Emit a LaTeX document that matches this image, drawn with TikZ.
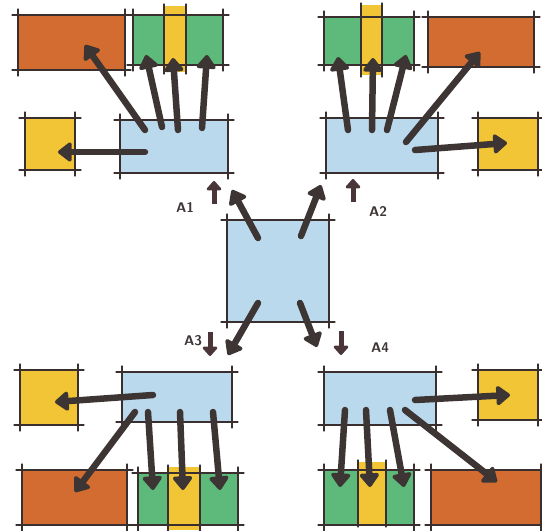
\documentclass[tikz,border=0pt]{standalone}
\usetikzlibrary{arrows.meta}
\definecolor{ink}{HTML}{3A2F2F}
\definecolor{arrink}{HTML}{3D3434}
\definecolor{sarrink}{HTML}{4A3638}
\definecolor{skyb}{HTML}{BAD9EC}
\definecolor{orng}{HTML}{D36C31}
\definecolor{grn}{HTML}{5DBA7B}
\definecolor{ylw}{HTML}{F1C536}
\newcommand\bx[6]{%
  \node[inner sep=0pt, outer sep=0pt, draw=none, fill=#6,
        minimum width={(#4-#2)*1pt}, minimum height={(#5-#3)*1pt}]
        (#1) at ({(#2+#4)/2},{(#3+#5)/2}) {};}
\newcommand\skout[1]{%
  \draw[sk] ([xshift=-6pt]#1.north west) -- ([xshift=6pt]#1.north east);
  \draw[sk] ([xshift=-6pt]#1.south west) -- ([xshift=6pt]#1.south east);
  \draw[sk] ([yshift=6pt]#1.north west) -- ([yshift=-6pt]#1.south west);
  \draw[sk] ([yshift=6pt]#1.north east) -- ([yshift=-6pt]#1.south east);}
\newcommand\skvert[1]{%
  \draw[sk] ([yshift=2pt]#1.north west) -- ([yshift=-2pt]#1.south west);
  \draw[sk] ([yshift=2pt]#1.north east) -- ([yshift=-2pt]#1.south east);}
\begin{document}
\begin{tikzpicture}[x=1pt,y=-1pt,
  sk/.style={draw=ink, line width=1.3pt, line cap=round},
  arr/.style={draw=arrink, line width=6.5pt, line cap=round,
    -{Triangle[round,length=15pt,width=22pt]}},
  sarr/.style={draw=sarrink, line width=5pt,
    -{Triangle[round,length=10pt,width=17pt]}},
  lbl/.style={font=\sffamily\bfseries\fontsize{14}{15}\selectfont, text=arrink, inner sep=1pt}]
\useasboundingbox (0,0) rectangle (542,531);
% ---------- boxes ----------
\bx{c}{227}{220}{329}{322}{skyb}
% TL
\bx{o1}{18}{15}{125}{70}{orng}
\bx{g1}{133}{15}{223}{65}{grn}
\bx{y1}{164}{6}{186}{72}{ylw}
\bx{s1}{25}{118}{75}{170}{ylw}
\bx{b1}{120}{120}{228}{173}{skyb}
% TR
\bx{g2}{324}{17}{414}{65}{grn}
\bx{y2}{361}{5}{382}{75}{ylw}
\bx{o2}{428}{17}{534}{67}{orng}
\bx{b2}{326}{118}{438}{173}{skyb}
\bx{s2}{478}{118}{538}{170}{ylw}
% BL
\bx{s3}{20}{370}{78}{425}{ylw}
\bx{b3}{122}{372}{232}{422}{skyb}
\bx{o3}{22}{470}{127}{525}{orng}
\bx{g3}{138}{473}{238}{525}{grn}
\bx{y3}{168}{467}{200}{530}{ylw}
% BR
\bx{b4}{324}{372}{436}{425}{skyb}
\bx{s4}{478}{370}{538}{420}{ylw}
\bx{g4}{324}{470}{414}{525}{grn}
\bx{y4}{358}{462}{386}{525}{ylw}
\bx{o4}{431}{470}{541}{525}{orng}
% ---------- sketch outlines ----------
\foreach \n in {c,o1,g1,s1,b1,g2,o2,b2,s2,s3,b3,o3,g3,b4,s4,g4,o4} {\skout{\n}}
\foreach \n in {y1,y2,y3,y4} {\skvert{\n}}
% ---------- arrow endpoints ----------
% TL
\coordinate (p1a) at (145,130); \coordinate (q1a) at (85,45);
\coordinate (p1b) at (162,127); \coordinate (q1b) at (146,55);
\coordinate (p1c) at (178,130); \coordinate (q1c) at (173,58);
\coordinate (p1d) at (202,128); \coordinate (q1d) at (207,55);
\coordinate (p1e) at (145,152); \coordinate (q1e) at (58,152);
\coordinate (cA1) at (258,238); \coordinate (tA1) at (232,190);
\coordinate (uA1) at (214,204); \coordinate (vA1) at (214,181);
% TR
\coordinate (p2a) at (348,130); \coordinate (q2a) at (338,57);
\coordinate (p2b) at (372,130); \coordinate (q2b) at (373,58);
\coordinate (p2c) at (387,130); \coordinate (q2c) at (406,55);
\coordinate (p2d) at (406,142); \coordinate (q2d) at (480,52);
\coordinate (p2e) at (415,150); \coordinate (q2e) at (507,143);
\coordinate (cA2) at (301,236); \coordinate (tA2) at (321,185);
\coordinate (uA2) at (353,202); \coordinate (vA2) at (353,179);
% BL
\coordinate (p3a) at (153,395); \coordinate (q3a) at (55,402);
\coordinate (p3b) at (135,412); \coordinate (q3b) at (75,492);
\coordinate (p3c) at (148,412); \coordinate (q3c) at (153,490);
\coordinate (p3d) at (180,412); \coordinate (q3d) at (183,490);
\coordinate (p3e) at (213,412); \coordinate (q3e) at (220,490);
\coordinate (cA3) at (258,303); \coordinate (tA3) at (228,355);
\coordinate (uA3) at (210,332); \coordinate (vA3) at (210,356);
% BR
\coordinate (p4a) at (415,400); \coordinate (q4a) at (510,395);
\coordinate (p4b) at (345,410); \coordinate (q4b) at (340,487);
\coordinate (p4c) at (366,410); \coordinate (q4c) at (370,487);
\coordinate (p4d) at (390,410); \coordinate (q4d) at (404,487);
\coordinate (p4e) at (405,410); \coordinate (q4e) at (497,482);
\coordinate (cA4) at (300,303); \coordinate (tA4) at (317,347);
\coordinate (uA4) at (341,331); \coordinate (vA4) at (341,355);
% ---------- arrows ----------
\foreach \q in {1,2,3,4} {
  \foreach \l in {a,b,c,d,e} {\draw[arr] (p\q\l) -- (q\q\l);}
  \draw[arr] (cA\q) -- (tA\q);
  \draw[sarr] (uA\q) -- (vA\q);
}
% ---------- labels ----------
\node[lbl] (lA1) at (185,207) {A1};
\node[lbl] (lA2) at (378,211) {A2};
\node[lbl] (lA3) at (193,341) {A3};
\node[lbl] (lA4) at (380,348) {A4};
\end{tikzpicture}
\end{document}
